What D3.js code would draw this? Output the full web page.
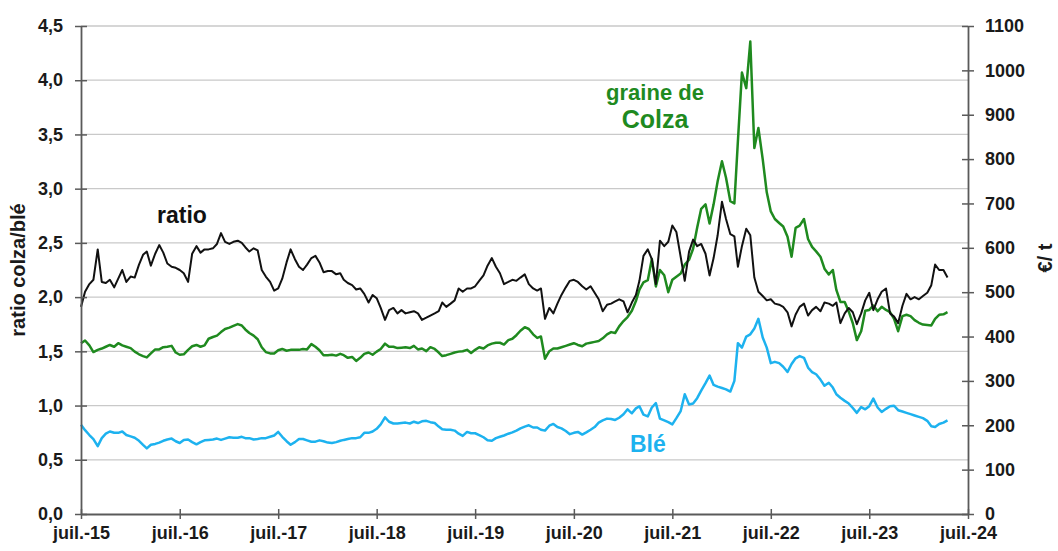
<!DOCTYPE html>
<html>
<head>
<meta charset="utf-8">
<script src="https://cdn.jsdelivr.net/npm/d3@7"></script>
<style>
  body { margin: 0; background: #fff; }
  svg { display: block; font-family: "Liberation Sans", Arial, sans-serif; }
  .tick text { font-weight: bold; fill: #1a1a1a; }
</style>
</head>
<body>
<svg width="1058" height="551"></svg>
<script>
// semi-monthly readings, first value = 1 July 2015
var ratio = [
  1.91, 2.05, 2.12, 2.16, 2.44, 2.14, 2.13, 2.16, 2.09, 2.17, 2.25, 2.14, 2.19, 2.18, 2.30, 2.39, 2.42, 2.29, 2.40, 2.48, 2.41, 2.31, 2.28, 2.27,
  2.25, 2.22, 2.14, 2.40, 2.47, 2.41, 2.44, 2.44, 2.45, 2.49, 2.59, 2.51, 2.49, 2.51, 2.52, 2.50, 2.46, 2.42, 2.45, 2.43, 2.25, 2.19, 2.14, 2.06,
  2.08, 2.17, 2.32, 2.44, 2.35, 2.28, 2.25, 2.30, 2.36, 2.38, 2.32, 2.23, 2.24, 2.24, 2.21, 2.22, 2.16, 2.13, 2.11, 2.07, 2.08, 2.03, 1.95, 2.02,
  1.99, 1.90, 1.79, 1.88, 1.90, 1.85, 1.88, 1.85, 1.86, 1.87, 1.85, 1.79, 1.81, 1.83, 1.85, 1.87, 1.95, 1.91, 1.94, 1.97, 2.08, 2.05, 2.08, 2.08,
  2.10, 2.15, 2.20, 2.29, 2.36, 2.28, 2.22, 2.12, 2.14, 2.16, 2.15, 2.18, 2.21, 2.12, 2.08, 2.06, 2.08, 1.80, 1.90, 1.85, 1.94, 2.02, 2.09, 2.15,
  2.16, 2.14, 2.10, 2.07, 2.10, 2.04, 1.98, 1.87, 1.93, 1.94, 1.96, 1.98, 1.96, 1.86, 1.95, 2.02, 2.15, 2.38, 2.44, 2.35, 2.12, 2.52, 2.47, 2.51,
  2.66, 2.60, 2.37, 2.15, 2.42, 2.53, 2.47, 2.49, 2.40, 2.20, 2.36, 2.57, 2.88, 2.72, 2.58, 2.56, 2.28, 2.47, 2.63, 2.57, 2.18, 2.05, 2.01, 1.97,
  1.98, 1.94, 1.93, 1.91, 1.86, 1.73, 1.84, 1.91, 1.94, 1.83, 1.88, 1.91, 1.87, 1.95, 1.94, 1.92, 1.95, 1.76, 1.85, 1.90, 1.86, 1.75, 1.85, 1.97,
  2.04, 1.88, 1.98, 2.05, 2.08, 1.85, 1.82, 1.76, 1.92, 2.03, 1.98, 2.00, 1.98, 2.01, 2.04, 2.11, 2.30, 2.25, 2.25, 2.18
];
var colza = [
  385, 391, 380, 365, 370, 373, 377, 381, 377, 385, 380, 377, 374, 366, 360, 356, 353, 362, 371, 371, 376, 377, 379, 364,
  359, 360, 370, 378, 381, 377, 380, 395, 399, 402, 410, 417, 420, 424, 428, 425, 416, 408, 402, 394, 376, 365, 362, 362,
  369, 372, 368, 370, 370, 370, 372, 371, 383, 377, 369, 358, 358, 359, 357, 361, 358, 352, 354, 345, 352, 361, 364, 359,
  366, 372, 384, 377, 377, 374, 375, 376, 374, 379, 371, 373, 367, 376, 372, 364, 356, 358, 361, 364, 366, 367, 370, 363,
  370, 376, 373, 380, 384, 386, 386, 382, 392, 395, 403, 413, 421, 417, 405, 397, 400, 350, 367, 373, 373, 376, 379, 382,
  385, 381, 378, 384, 386, 388, 390, 396, 405, 410, 408, 423, 435, 444, 458, 480, 506, 522, 527, 575, 513, 550, 538, 500,
  528, 535, 542, 562, 573, 598, 645, 688, 698, 655, 698, 750, 795, 758, 705, 700, 840, 995, 960, 1065, 825, 870, 800, 725,
  682, 665, 656, 648, 625, 580, 645, 650, 665, 620, 602, 592, 580, 553, 540, 550, 505, 478, 478, 456, 430, 392, 412, 458,
  460, 470, 457, 467, 460, 455, 440, 412, 446, 449, 446, 437, 431, 427, 426, 425, 440, 449, 450, 455
];
var ble = [
  201, 189, 178, 169, 153, 171, 181, 186, 183, 183, 186, 178, 175, 172, 165, 156, 148, 156, 158, 161, 165, 168, 170, 164,
  160, 167, 168, 162, 157, 162, 166, 167, 168, 170, 167, 170, 173, 172, 172, 174, 171, 171, 168, 169, 171, 171, 174, 177,
  185, 174, 164, 156, 162, 169, 169, 166, 163, 163, 166, 164, 161, 160, 162, 165, 167, 169, 171, 171, 173, 183, 183, 186,
  192, 202, 218, 208, 204, 204, 205, 206, 204, 208, 205, 209, 210, 207, 205, 197, 191, 190, 190, 188, 181, 176, 185, 182,
  182, 178, 173, 166, 165, 171, 174, 177, 181, 184, 188, 193, 197, 200, 195, 195, 190, 188, 199, 203, 196, 193, 187, 180,
  183, 185, 179, 184, 190, 196, 206, 211, 215, 214, 212, 217, 225, 236, 227, 238, 243, 224, 220, 240, 250, 215, 211, 207,
  202, 216, 232, 270, 247, 249, 261, 278, 295, 312, 291, 287, 284, 281, 276, 300, 385, 375, 400, 405, 418, 440, 398, 375,
  340, 343, 340, 332, 320, 338, 351, 356, 352, 330, 320, 315, 303, 289, 296, 285, 270, 262, 255, 249, 239, 228, 241, 236,
  243, 260, 240, 230, 237, 243, 244, 234, 231, 228, 225, 222, 219, 216, 210, 198, 196, 203, 206, 211
];
var years = [2015, 2016, 2017, 2018, 2019, 2020, 2021, 2022, 2023, 2024];
var yearLabels = ["juil.-15", "juil.-16", "juil.-17", "juil.-18", "juil.-19", "juil.-20", "juil.-21", "juil.-22", "juil.-23", "juil.-24"];
var ratioTicks = [0, 0.5, 1, 1.5, 2, 2.5, 3, 3.5, 4, 4.5];
var priceTicks = [0, 100, 200, 300, 400, 500, 600, 700, 800, 900, 1000, 1100];

var svg = d3.select("svg");
var margin = {left: 81, right: 90, top: 26, bottom: 37};
var width = svg.attr("width") - margin.left - margin.right;
var height = svg.attr("height") - margin.top - margin.bottom;

var green = "#1f8a1f";
var blue = "#1db2ef";

function dateAt(i) {
  return new Date(2015, 6 + Math.floor(i / 2), i % 2 ? 16 : 1);
}

var xScale = d3.scaleTime().domain([new Date(2015, 6, 1), new Date(2024, 6, 1)]).range([0, width]);
var yLeft = d3.scaleLinear().domain([0, 4.5]).range([height, 0]);
var yRight = d3.scaleLinear().domain([0, 1100]).range([height, 0]);

var g = svg.append("g").attr("transform", "translate(" + margin.left + "," + margin.top + ")");

// gridlines
g.selectAll(".grid")
  .data(ratioTicks.slice(1))
  .enter()
  .append("line")
  .attr("class", "grid")
  .attr("x1", 0)
  .attr("x2", width)
  .attr("y1", function(d) { return yLeft(d); })
  .attr("y2", function(d) { return yLeft(d); })
  .style("stroke", "#c9c9c9")
  .style("stroke-width", 1.3);

// series
var lineRight = d3.line()
  .x(function(d, i) { return xScale(dateAt(i)); })
  .y(function(d) { return yRight(d); });
var lineLeft = d3.line()
  .x(function(d, i) { return xScale(dateAt(i)); })
  .y(function(d) { return yLeft(d); });

g.append("path").datum(ble).attr("d", lineRight)
  .style("fill", "none").style("stroke", blue).style("stroke-width", 2.5).style("stroke-linejoin", "round");
g.append("path").datum(colza).attr("d", lineRight)
  .style("fill", "none").style("stroke", green).style("stroke-width", 2.5).style("stroke-linejoin", "round");
g.append("path").datum(ratio).attr("d", lineLeft)
  .style("fill", "none").style("stroke", "#111").style("stroke-width", 2).style("stroke-linejoin", "round");

// axes
var axisColor = "#5a5a5a";

var xAxis = g.append("g").attr("transform", "translate(0," + height + ")")
  .call(d3.axisBottom(xScale)
    .tickValues(years.map(function(y) { return new Date(y, 6, 1); }))
    .tickFormat(function(d, i) { return yearLabels[i]; })
    .tickSize(5).tickSizeOuter(0).tickPadding(7));

var leftAxis = g.append("g")
  .call(d3.axisLeft(yLeft)
    .tickValues(ratioTicks)
    .tickFormat(function(d) { return d3.format(".1f")(d).replace(".", ","); })
    .tickSize(6).tickSizeOuter(0).tickPadding(12));

var rightAxis = g.append("g").attr("transform", "translate(" + width + ",0)")
  .call(d3.axisRight(yRight)
    .tickValues(priceTicks)
    .tickFormat(d3.format("d"))
    .tickSize(6).tickSizeOuter(0).tickPadding(11));

[xAxis, leftAxis, rightAxis].forEach(function(ax) {
  ax.select(".domain").style("stroke", axisColor).style("stroke-width", 1.8);
  ax.selectAll(".tick line").style("stroke", axisColor).style("stroke-width", 1.5);
  ax.selectAll(".tick text").style("font-size", "18px");
});
xAxis.selectAll(".tick line").attr("y1", -5);
leftAxis.selectAll(".tick line").attr("x1", 6);
rightAxis.selectAll(".tick line").attr("x1", -6);

// axis titles
svg.append("text")
  .attr("transform", "translate(25,270) rotate(-90)")
  .style("text-anchor", "middle")
  .style("font-weight", "bold")
  .style("font-size", "20px")
  .style("fill", "#1a1a1a")
  .text("ratio colza/blé");

svg.append("text")
  .attr("transform", "translate(1052,258) rotate(-90)")
  .style("text-anchor", "middle")
  .style("font-weight", "bold")
  .style("font-size", "20px")
  .style("fill", "#1a1a1a")
  .text("€/ t");

// series labels
svg.append("text").attr("x", 157).attr("y", 223)
  .style("font-weight", "bold").style("font-size", "23px").style("fill", "#111")
  .text("ratio");
svg.append("text").attr("x", 655).attr("y", 100)
  .style("text-anchor", "middle")
  .style("font-weight", "bold").style("font-size", "22px").style("fill", green)
  .text("graine de");
svg.append("text").attr("x", 655).attr("y", 128)
  .style("text-anchor", "middle")
  .style("font-weight", "bold").style("font-size", "25px").style("fill", green)
  .text("Colza");
svg.append("text").attr("x", 630).attr("y", 452)
  .style("font-weight", "bold").style("font-size", "23px").style("fill", blue)
  .text("Blé");
</script>
</body>
</html>
